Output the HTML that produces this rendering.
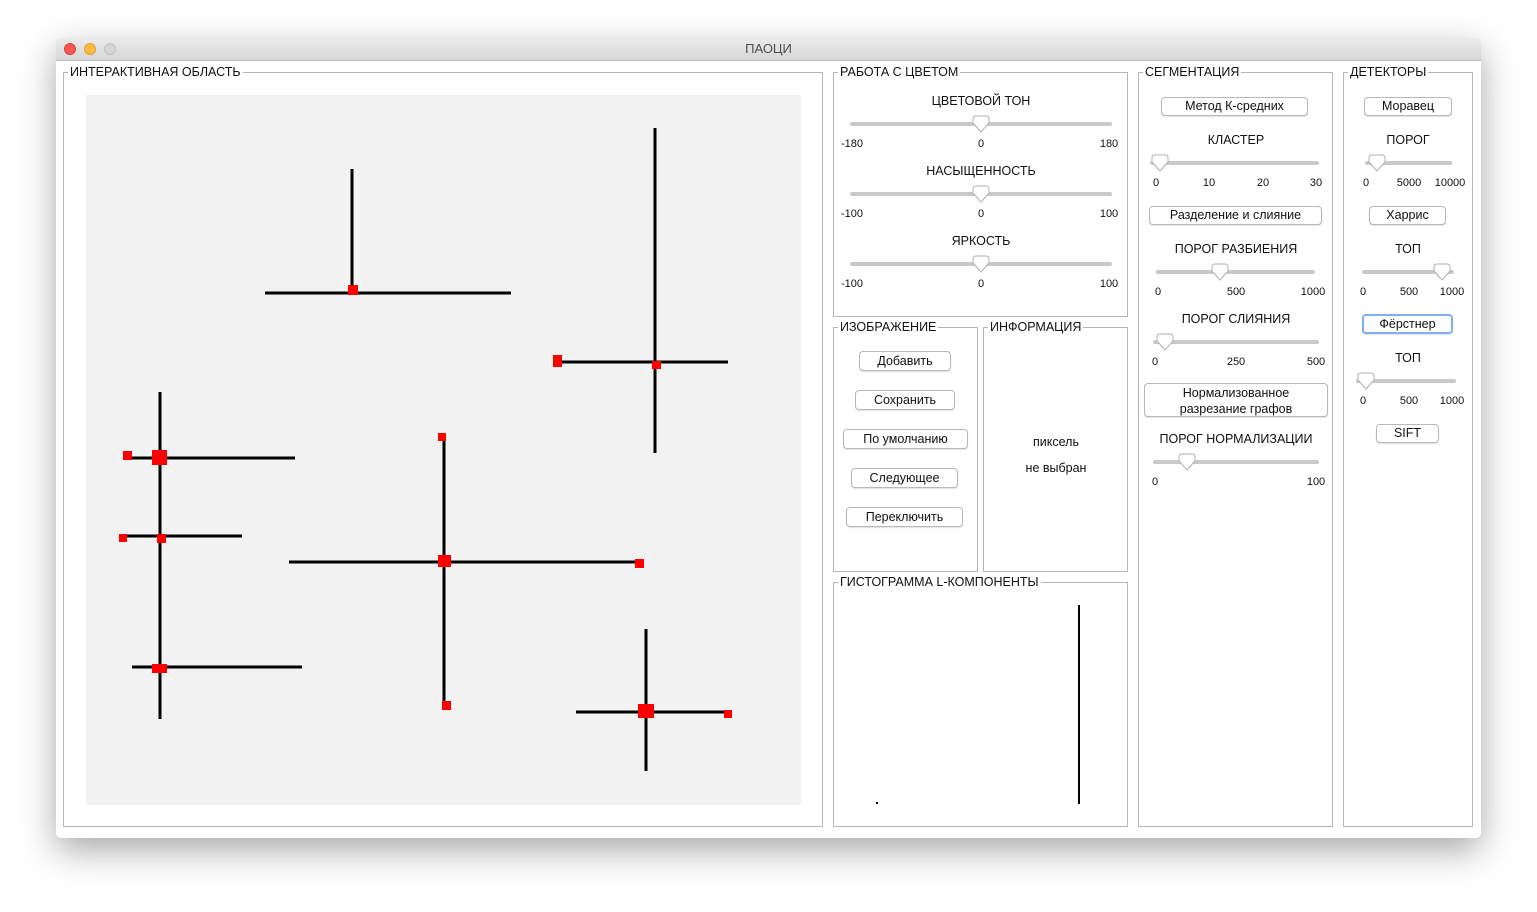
<!DOCTYPE html>
<html><head><meta charset="utf-8">
<style>
body{margin:0;width:1537px;height:912px;background:#fff;position:relative;overflow:hidden;font-family:"Liberation Sans","DejaVu Sans",sans-serif;color:#111}
.win{position:absolute;left:56px;top:38px;width:1425px;height:800px;background:#fff;box-shadow:0 12px 35px rgba(0,0,0,.35);border-radius:5px}
.title{position:absolute;left:56px;top:38px;width:1425px;height:22px;background:linear-gradient(#ececec,#d6d6d6);border-bottom:1px solid #b9b9b9;border-radius:5px 5px 0 0;text-align:center;font-size:13px;line-height:22px;color:#4d4d4d}
.dot{position:absolute;top:43px;width:12px;height:12px;border-radius:50%}
.fs{position:absolute;border:1px solid #b5b5b5}
.lg{position:absolute;background:#fff;font-size:12.5px;padding:0 2px;line-height:14px;top:-8px;left:4px;white-space:nowrap}
.c{position:absolute;transform:translateX(-50%);white-space:nowrap;font-size:12.5px;line-height:14px}
.n{position:absolute;transform:translateX(-50%);font-size:11px;line-height:12px}
.btn{position:absolute;border:1px solid #b8b8b8;border-radius:4px;background:#fff;font-size:12.5px;text-align:center;box-shadow:0 1px 1px rgba(0,0,0,.12);box-sizing:border-box}
</style></head><body>
<div class="win"></div>
<div class="title">ПАОЦИ</div>
<div class="dot" style="left:64px;background:#fc5753;border:1px solid #de3f3b;box-sizing:border-box"></div>
<div class="dot" style="left:84px;background:#fdbc40;border:1px solid #de9f34;box-sizing:border-box"></div>
<div class="dot" style="left:104px;background:#d5d5d5;border:1px solid #c2c2c2;box-sizing:border-box"></div>

<div class="fs" style="left:63px;top:72px;width:758px;height:753px"><div class="lg">ИНТЕРАКТИВНАЯ ОБЛАСТЬ</div></div>
<div class="fs" style="left:833px;top:72px;width:293px;height:243px"><div class="lg">РАБОТА С ЦВЕТОМ</div></div>
<div class="fs" style="left:833px;top:327px;width:143px;height:243px"><div class="lg">ИЗОБРАЖЕНИЕ</div></div>
<div class="fs" style="left:983px;top:327px;width:143px;height:243px"><div class="lg">ИНФОРМАЦИЯ</div></div>
<div class="fs" style="left:833px;top:582px;width:293px;height:243px"><div class="lg">ГИСТОГРАММА L-КОМПОНЕНТЫ</div></div>
<div class="fs" style="left:1138px;top:72px;width:193px;height:753px"><div class="lg">СЕГМЕНТАЦИЯ</div></div>
<div class="fs" style="left:1343px;top:72px;width:128px;height:753px"><div class="lg">ДЕТЕКТОРЫ</div></div>

<svg style="position:absolute;left:0;top:0" width="1537" height="912">
<rect x="86" y="95" width="715" height="710" fill="#f2f2f2"/>
<g stroke="#000" stroke-width="3">
<line x1="352" y1="169" x2="352" y2="293"/><line x1="265" y1="293" x2="511" y2="293"/>
<line x1="655" y1="128" x2="655" y2="453"/><line x1="556" y1="362" x2="728" y2="362"/>
<line x1="160" y1="392" x2="160" y2="719"/><line x1="130" y1="458" x2="295" y2="458"/>
<line x1="124" y1="536" x2="242" y2="536"/><line x1="132" y1="667" x2="302" y2="667"/>
<line x1="444" y1="436" x2="444" y2="705"/><line x1="289" y1="562" x2="640" y2="562"/>
<line x1="646" y1="629" x2="646" y2="771"/><line x1="576" y1="712" x2="728" y2="712"/>
</g>
<g fill="#f00">
<rect x="348" y="285" width="10" height="10"/>
<rect x="553" y="355" width="9" height="12"/><rect x="652" y="361" width="9" height="8"/>
<rect x="123" y="451" width="9" height="9"/><rect x="152" y="450" width="15" height="15"/>
<rect x="119" y="534" width="8" height="8"/><rect x="157" y="534" width="9" height="9"/>
<rect x="152" y="664" width="15" height="9"/>
<rect x="438" y="433" width="8" height="8"/><rect x="438" y="555" width="13" height="12"/>
<rect x="442" y="701" width="9" height="9"/><rect x="635" y="559" width="9" height="9"/>
<rect x="638" y="704" width="16" height="14"/><rect x="724" y="710" width="8" height="8"/>
</g>
<line x1="1079" y1="605" x2="1079" y2="804" stroke="#000" stroke-width="2"/>
<rect x="876" y="802" width="2" height="2" fill="#000"/>
<g id="sliders"></g>
</svg>

<div class="c" style="left:981px;top:94px">ЦВЕТОВОЙ ТОН</div>
<div class="c" style="left:981px;top:164px">НАСЫЩЕННОСТЬ</div>
<div class="c" style="left:981px;top:234px">ЯРКОСТЬ</div>
<div class="n" style="left:852px;top:138px">-180</div><div class="n" style="left:981px;top:138px">0</div><div class="n" style="left:1109px;top:138px">180</div>
<div class="n" style="left:852px;top:208px">-100</div><div class="n" style="left:981px;top:208px">0</div><div class="n" style="left:1109px;top:208px">100</div>
<div class="n" style="left:852px;top:278px">-100</div><div class="n" style="left:981px;top:278px">0</div><div class="n" style="left:1109px;top:278px">100</div>

<div class="btn" style="left:859px;top:351px;width:92px;height:20px;line-height:18px">Добавить</div>
<div class="btn" style="left:855px;top:390px;width:100px;height:20px;line-height:18px">Сохранить</div>
<div class="btn" style="left:843px;top:429px;width:125px;height:20px;line-height:18px">По умолчанию</div>
<div class="btn" style="left:851px;top:468px;width:107px;height:20px;line-height:18px">Следующее</div>
<div class="btn" style="left:846px;top:507px;width:117px;height:20px;line-height:18px">Переключить</div>
<div class="c" style="left:1056px;top:435px">пиксель</div>
<div class="c" style="left:1056px;top:461px">не выбран</div>

<div class="btn" style="left:1161px;top:97px;width:147px;height:19px;line-height:17px">Метод К-средних</div>
<div class="c" style="left:1236px;top:133px">КЛАСТЕР</div>
<div class="n" style="left:1156px;top:177px">0</div><div class="n" style="left:1209px;top:177px">10</div><div class="n" style="left:1263px;top:177px">20</div><div class="n" style="left:1316px;top:177px">30</div>
<div class="btn" style="left:1149px;top:206px;width:173px;height:19px;line-height:17px">Разделение и слияние</div>
<div class="c" style="left:1236px;top:242px">ПОРОГ РАЗБИЕНИЯ</div>
<div class="n" style="left:1158px;top:286px">0</div><div class="n" style="left:1236px;top:286px">500</div><div class="n" style="left:1313px;top:286px">1000</div>
<div class="c" style="left:1236px;top:312px">ПОРОГ СЛИЯНИЯ</div>
<div class="n" style="left:1155px;top:356px">0</div><div class="n" style="left:1236px;top:356px">250</div><div class="n" style="left:1316px;top:356px">500</div>
<div class="btn" style="left:1144px;top:383px;width:184px;height:34px;line-height:16px;padding-top:1px">Нормализованное<br>разрезание графов</div>
<div class="c" style="left:1236px;top:432px">ПОРОГ НОРМАЛИЗАЦИИ</div>
<div class="n" style="left:1155px;top:476px">0</div><div class="n" style="left:1316px;top:476px">100</div>

<div class="btn" style="left:1364px;top:97px;width:88px;height:19px;line-height:17px">Моравец</div>
<div class="c" style="left:1408px;top:133px">ПОРОГ</div>
<div class="n" style="left:1366px;top:177px">0</div><div class="n" style="left:1409px;top:177px">5000</div><div class="n" style="left:1450px;top:177px">10000</div>
<div class="btn" style="left:1369px;top:206px;width:77px;height:19px;line-height:17px">Харрис</div>
<div class="c" style="left:1408px;top:242px">ТОП</div>
<div class="n" style="left:1363px;top:286px">0</div><div class="n" style="left:1409px;top:286px">500</div><div class="n" style="left:1452px;top:286px">1000</div>
<div class="btn" style="left:1362px;top:314px;width:91px;height:20px;line-height:18px;border:2px solid #7fb0f5;line-height:16px">Фёрстнер</div>
<div class="c" style="left:1408px;top:351px">ТОП</div>
<div class="n" style="left:1363px;top:395px">0</div><div class="n" style="left:1409px;top:395px">500</div><div class="n" style="left:1452px;top:395px">1000</div>
<div class="btn" style="left:1376px;top:424px;width:63px;height:19px;line-height:17px">SIFT</div>

<script>
const sliderNames=['hue-slider','saturation-slider','brightness-slider','cluster-slider','split-threshold-slider','merge-threshold-slider','normalization-threshold-slider','moravec-threshold-slider','harris-top-slider','forstner-top-slider'];
const sliderSpecs=[[852,1110,124,981],[852,1110,194,981],[852,1110,264,981],[1152,1317,163,1160],[1158,1313,272,1220],[1155,1317,342,1165],[1155,1317,462,1187],[1367,1450,163,1377],[1364,1452,272,1442],[1358,1454,381,1366]];
const g=document.getElementById('sliders');
const NS='http://www.w3.org/2000/svg';
sliderSpecs.forEach((s,i)=>{
  const grp=document.createElementNS(NS,'g');
  
  
  const t=document.createElementNS(NS,'line');
  t.setAttribute('x1',s[0]);t.setAttribute('x2',s[1]);t.setAttribute('y1',s[2]);t.setAttribute('y2',s[2]);
  t.setAttribute('stroke','#c9c9c9');t.setAttribute('stroke-width','4');t.setAttribute('stroke-linecap','round');
  grp.appendChild(t);
  const th=document.createElementNS(NS,'path');
  const x=s[3],y=s[2];
  th.setAttribute('d',`M${x-8},${y-5} q0,-3 3,-3 h10 q3,0 3,3 v4 l-8,9 l-8,-9 z`);
  th.setAttribute('fill','#fff');th.setAttribute('stroke','#b0b0b0');th.setAttribute('stroke-width','1');
  grp.appendChild(th);
  g.appendChild(grp);
});
</script>
</body></html>
